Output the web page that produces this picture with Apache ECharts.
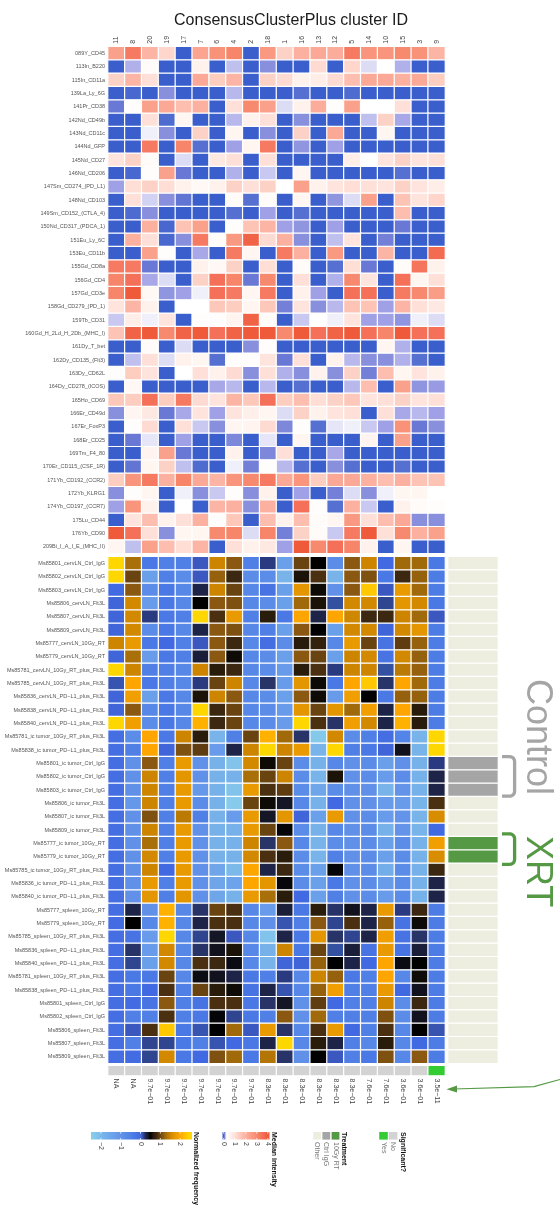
<!DOCTYPE html>
<html><head><meta charset="utf-8">
<script src="https://cdn.jsdelivr.net/npm/echarts@6/dist/echarts.min.js"></script>
<style>html,body{margin:0;padding:0;background:#fff}#c{width:560px;height:1225px}</style>
</head><body><div id="c"></div>
<script>
// ---------------- DATA ----------------
const clusterIds = ['11','8','20','19','17','7','6','4','2','18','1','16','13','12','5','14','10','15','3','9'];

const markers = ['089Y_CD45','113In_B220','115In_CD11a','139La_Ly_6G','141Pr_CD38','142Nd_CD49b','143Nd_CD11c','144Nd_GFP','145Nd_CD27','146Nd_CD206','147Sm_CD274_(PD_L1)','148Nd_CD103','149Sm_CD152_(CTLA_4)','150Nd_CD317_(PDCA_1)','151Eu_Ly_6C','153Eu_CD11b','155Gd_CD8a','156Gd_CD4','157Gd_CD3e','158Gd_CD279_(PD_1)','159Tb_CD31','160Gd_H_2Ld_H_2Db_(MHC_I)','161Dy_T_bet','162Dy_CD135_(Flt3)','163Dy_CD62L','164Dy_CD278_(ICOS)','165Ho_CD69','166Er_CD49d','167Er_FoxP3','168Er_CD25','169Tm_F4_80','170Er_CD115_(CSF_1R)','171Yb_CD192_(CCR2)','172Yb_KLRG1','174Yb_CD197_(CCR7)','175Lu_CD44','176Yb_CD90','209Bi_I_A_I_E_(MHC_II)'];

const samples = ['Ms85801_cervLN_Ctrl_IgG','Ms85802_cervLN_Ctrl_IgG','Ms85803_cervLN_Ctrl_IgG','Ms85806_cervLN_Flt3L','Ms85807_cervLN_Flt3L','Ms85809_cervLN_Flt3L','Ms85777_cervLN_10Gy_RT','Ms85779_cervLN_10Gy_RT','Ms85781_cervLN_10Gy_RT_plus_Flt3L','Ms85785_cervLN_10Gy_RT_plus_Flt3L','Ms85836_cervLN_PD−L1_plus_Flt3L','Ms85838_cervLN_PD−L1_plus_Flt3L','Ms85840_cervLN_PD−L1_plus_Flt3L','Ms85781_ic tumor_10Gy_RT_plus_Flt3L','Ms85838_ic tumor_PD−L1_plus_Flt3L','Ms85801_ic tumor_Ctrl_IgG','Ms85802_ic tumor_Ctrl_IgG','Ms85803_ic tumor_Ctrl_IgG','Ms85806_ic tumor_Flt3L','Ms85807_ic tumor_Flt3L','Ms85809_ic tumor_Flt3L','Ms85777_ic tumor_10Gy_RT','Ms85779_ic tumor_10Gy_RT','Ms85785_ic tumor_10Gy_RT_plus_Flt3L','Ms85836_ic tumor_PD−L1_plus_Flt3L','Ms85840_ic tumor_PD−L1_plus_Flt3L','Ms85777_spleen_10Gy_RT','Ms85779_spleen_10Gy_RT','Ms85785_spleen_10Gy_RT_plus_Flt3L','Ms85836_spleen_PD−L1_plus_Flt3L','Ms85840_spleen_PD−L1_plus_Flt3L','Ms85781_spleen_10Gy_RT_plus_Flt3L','Ms85838_spleen_PD−L1_plus_Flt3L','Ms85801_spleen_Ctrl_IgG','Ms85802_spleen_Ctrl_IgG','Ms85806_spleen_Flt3L','Ms85807_spleen_Flt3L','Ms85809_spleen_Flt3L'];

// median intensity (rows = markers, cols = clusters)
const markerValues = [
[2.4,3.3,1.9,1.2,0,2.3,2.8,3.1,0,2.6,1.3,2.0,2.2,2.1,3.3,2.7,2.7,3.0,2.8,1.9],
[0,0.15,0.4,0,0,0.6,0,0.17,0,0.1,0,0,1.1,0,1.2,0.2,0.3,0.15,0,0],
[1.3,1.9,1.0,0,0,2.2,1.4,1.9,0,1.3,1.1,0.6,0.7,1.1,1.7,2.2,2.2,2.0,2.2,1.4],
[0,0.02,0,0.1,0,0,0,0.16,0,0,0,0.04,0,0,0.03,0,0,0,0,0],
[0.07,0.35,2.4,2.2,1.7,2.0,0,1.0,3.0,2.4,0.2,0.6,2.1,0.35,2.4,0.3,0.3,1.0,0,0],
[0,0,1.0,0.03,0.5,0,0,0.16,0.6,1.0,0,0.1,0,0,0,0.17,1.3,0.14,0,0],
[0,0,0.22,0.1,0,1.3,0,0.5,0,0.1,0,1.3,0,2.2,0,0,0.5,0,0,0],
[0,0,3.3,0,3.1,0.04,0,0.13,0.5,3.3,0,0.11,0,0.13,0,0,0,0,0,0],
[0.9,1.3,0.4,0,0.2,0,0.8,1.0,0,1.0,0,0,0,0,0.7,0.3,0.9,1.3,0.9,1.0],
[0,0.02,0.35,2.4,0.07,0,0,0.15,0,0.18,0,0.5,0,0,0,0,0,0.04,0,0],
[0.13,1.05,1.3,1.05,0.6,0.45,0.6,1.3,1.0,1.3,0.3,2.4,0.6,0.9,1.05,1.0,0.9,1.3,0.9,0.7],
[0,1.0,0.19,0.1,0.06,0,0,0.4,0.04,0.4,0,0.5,0,0.11,0.2,2.4,0,1.6,0.9,1.2],
[0,0.03,0.1,0,0,0,0,0.04,0,0.13,0,0.04,0,0,0,0,0,1.7,0,0],
[0,0,2.0,0.02,1.6,2.4,0,0.35,1.6,1.9,0.13,0.11,0,0.13,0,0,0,0.07,0,0],
[0,2.0,1.0,0.02,0.1,3.3,0.4,2.6,3.8,1.1,2.0,0.1,0,0.17,0.9,0,0.08,0,0,0],
[0,0,2.4,0.35,0,0.14,0,3.3,0.5,0,3.3,2.0,0,2.6,0,0,1.9,0,0,3.6],
[3.3,3.3,0.07,0,0,0.6,0.45,1.3,0,1.05,0,0.4,0,0.04,1.05,0.07,0,0.4,3.4,0.6],
[3.1,3.5,0.14,0.2,0,1.3,3.5,3.1,0.07,3.0,0,1.0,0,0.15,3.0,0.9,0,3.5,0.5,1.0],
[3.1,4.0,0.45,0.11,0.13,0.22,3.5,3.3,0.5,3.3,0,0.6,0.13,0,3.5,3.5,0,3.3,3.0,2.5],
[0.9,1.9,0.6,0,0.3,0.3,1.5,1.4,0.5,1.5,0.08,0.9,0.1,0.16,1.6,1.6,0.13,1.9,1.0,0.8],
[0.18,0.7,0.22,0.9,0,0.35,0.35,0.55,3.8,0.4,0,0.18,0.3,0.22,0.9,0.13,0.13,0.11,0.22,0.2],
[1.6,3.8,4.0,3.0,3.8,4.0,3.5,3.8,4.0,4.0,3.0,4.0,3.5,3.8,4.0,3.5,3.1,4.0,3.5,3.5],
[0,0,0.4,0,0.2,0,0,0,0.1,0.35,0,0,0,0,0,0,0.5,0.15,0,0],
[0,0.17,1.0,0.2,0.6,0.5,0.04,0.35,0.35,0.9,0.07,1.0,0,0.6,0.16,0.1,0.1,0.15,0.04,0],
[0.35,1.4,0.9,0,0.3,1.0,0.6,1.1,0.1,1.0,0.15,0.1,0.6,0.1,1.3,0.08,1.7,0.5,0.9,0.6],
[0,0.45,0,0,0,0,0.14,0.16,0,0.16,0,0.04,0,0,0.16,1.7,0,2.4,0.11,0.12],
[1.5,1.4,3.5,1.4,3.3,1.1,0.9,1.9,1.5,3.5,1.4,1.7,1.05,1.3,1.5,0.9,1.0,1.3,0.9,1.0],
[0.1,0.5,0.8,0.07,0.14,0.9,0.13,0.9,0.65,0.5,0.2,1.3,0.6,0.9,1.0,0,1.0,0.14,0.16,0.13],
[0,0.35,1.1,0,1.0,0.18,0.1,0.5,0.55,1.1,0.09,0.35,0.04,0.21,0.22,0.18,0.13,2.8,0.07,0.1],
[0,0.07,0.21,0,0.13,0,0,0.09,0,0.21,0,0.5,0,0,0,0.55,0,2.4,0,0],
[0,0,0.55,2.4,0.07,0,0,0.6,0,0.09,1.0,0,0,0.14,0,0,0,0,0,0],
[0,0.06,0.5,1.3,0.17,0.03,0,0.22,0.08,0.35,0.16,0.04,0,0.1,0.04,0,0,0.04,0,0],
[1.4,2.7,3.3,2.0,3.1,2.2,1.9,2.7,3.0,3.3,2.2,2.7,1.4,2.2,2.2,2.0,1.7,2.0,1.6,1.6],
[0.1,0.35,0.5,0,0.22,0.1,0.18,0.35,0.1,0.6,0,0.13,0,0.08,0.2,0.1,0.22,0.5,0.5,0.3],
[0.13,2.7,0.6,0,0.3,0,1.9,2.0,0.1,2.0,0,3.5,0.35,0.04,2.0,0.18,0,0.6,0.4,0.35],
[0,0.9,1.7,0.6,1.0,2.0,0.35,1.5,0,1.7,0.6,1.7,0.4,0.5,2.6,1.0,1.7,2.2,0.1,0.1],
[4.0,3.5,1.0,0.1,0.5,0.5,3.0,3.1,0.2,3.1,0.08,1.3,0.4,0.18,3.3,4.0,1.0,3.0,2.0,2.4],
[0.5,0.17,2.4,1.7,1.05,1.9,0,1.0,0.6,0.8,0.13,4.0,3.0,3.5,3.1,0.6,0,0.5,0,0]
];

// normalized frequency (rows = samples, cols = clusters)
const freqValues = [
[2.5,1.3,-0.3,-0.5,-0.5,0.08,1.5,1.15,-0.5,0.18,-1.3,1.0,0.5,-0.8,1.15,1.5,0,1.25,1.25,-0.3],
[2.5,1.0,-1.3,-0.5,-0.8,0.08,1.2,0.8,-0.8,-0.8,-1.9,0.6,0.85,-1.9,1.15,1.1,-0.3,0.8,1.2,-0.4],
[0,1.15,-0.8,-0.3,-0.7,0.27,1.5,1.0,-0.7,-0.2,-1.3,1.7,0.55,-0.9,1.15,2.3,0.08,1.75,1.25,-0.4],
[0.02,1.55,-1.2,-0.3,-0.7,0.5,1.15,1.1,-0.7,-0.8,-1.3,1.25,0.6,0.12,1.55,1.55,0.15,1.7,1.55,-0.3],
[0.02,1.55,0.18,-0.3,-0.5,2.5,0.85,1.75,-0.5,0.65,-0.3,2.0,0.27,2.0,1.52,0.8,0.8,1.5,1.25,0.08],
[0.02,1.55,-0.8,-0.3,-0.7,0.27,1.15,1.1,-0.7,-0.5,-1.3,1.15,0.5,-1.3,1.55,1.55,0.02,1.55,1.7,-0.4],
[1.5,1.75,-0.3,0,-0.5,0.08,1.15,0.8,-0.7,-0.1,-0.8,0.65,0.7,-0.7,1.75,1.0,-0.2,0.95,1.2,-0.4],
[0.02,1.3,-1.2,-0.3,-0.5,0.35,1.15,0.55,-0.7,-0.8,-1.3,1.15,1.0,-1.3,1.5,1.55,-0.2,1.55,1.2,-0.4],
[2.5,1.5,-0.5,-0.5,-0.7,1.5,0.65,0.8,-0.7,-0.8,-1.2,0.65,0.85,0.18,1.5,1.5,0.12,1.4,1.2,-0.4],
[0.1,2.0,-0.3,-0.5,-0.7,0.18,1.0,1.5,-0.7,0.22,-1.2,1.7,0.55,-0.3,2.0,2.3,0.22,2.0,1.25,-0.4],
[0.02,1.85,-1.3,-0.3,-0.7,0.6,1.5,1.15,-0.7,-0.8,-1.3,1.15,0.55,-1.2,1.85,0.5,-0.3,1.2,1.2,-0.4],
[0.02,1.15,-0.7,-0.3,-0.7,2.5,0.8,1.0,-0.7,-0.8,-1.2,1.7,1.0,1.7,1.25,1.85,0.27,2.0,0.65,-0.4],
[2.5,1.85,-0.8,-0.3,-0.7,2.1,0.8,1.0,-0.7,-0.8,-1.2,2.5,0.85,0.22,1.85,1.55,0.27,2.1,0.65,-0.4],
[-0.1,-0.8,2.0,-0.3,1.5,0.65,-1.9,-0.5,1.0,2.1,1.25,0.22,-2.3,1.55,-0.8,-0.5,-0.1,-0.6,-1.9,2.5],
[-0.1,-0.5,2.0,0.02,1.1,0.95,-1.2,0.27,1.5,2.5,1.5,1.75,-1.9,2.5,-0.5,-0.3,0.02,0.42,-1.9,2.5],
[-0.1,-0.9,1.15,-0.5,1.75,-0.9,-1.8,-2.2,1.55,0.55,1.0,-0.8,-1.8,-0.7,-0.9,-0.8,-1.3,-0.9,-1.8,0.18],
[-0.1,-0.9,1.5,-0.5,1.7,-0.9,-1.8,-1.8,1.3,1.0,1.5,-0.8,-1.9,0.6,-0.9,-0.8,-1.2,-0.8,-1.8,0.27],
[-0.1,-0.9,1.5,-0.5,1.75,-1.1,-1.8,-2.2,1.75,0.85,0.95,-0.8,-1.5,-0.8,-0.9,-0.9,-1.9,-1.0,-1.8,0.27],
[-0.1,-1.1,1.5,-0.5,1.75,-0.8,-1.8,-2.4,1.0,0.55,0.4,-0.7,-1.8,0,-0.9,-0.9,-1.2,-1.2,-1.9,0.85],
[-0.1,-0.9,1.1,-0.5,1.4,-0.5,-1.8,-1.2,1.75,0.4,1.7,0.02,-1.3,1.75,-0.9,-0.8,-1.2,-1.0,-1.9,1.6],
[-0.1,-0.9,1.5,-0.5,1.75,-0.9,-1.8,-1.8,1.75,1.0,0.48,-0.8,-1.8,-0.7,-0.9,-0.8,-1.8,-1.0,-1.9,0],
[-0.1,-0.9,1.3,-0.5,1.75,-0.9,-1.8,-1.8,1.5,0.22,1.15,-0.7,-1.9,-0.8,-0.9,-0.8,-1.3,-0.8,-1.8,1.85],
[-0.1,-0.9,1.55,-0.5,1.75,-0.9,-1.8,-1.8,1.55,0.85,0.65,-0.8,-1.9,-0.5,-0.9,-0.8,-1.3,-0.8,-1.8,1.6],
[-0.1,-0.9,1.5,0,1.75,-0.9,-1.5,-2.0,2.0,0.27,0.8,-0.8,-1.3,0.48,-0.9,-0.8,-1.7,-0.8,-1.8,0.8],
[-0.1,-0.9,1.75,-0.5,1.75,-0.9,-1.5,-1.4,2.0,1.7,0.47,-0.8,-1.3,-0.3,-0.9,-0.8,-1.2,-0.8,-1.8,0.27],
[-0.1,-0.9,1.7,-0.5,1.7,-0.9,-1.5,-1.8,1.75,1.3,0.65,0,-1.3,-0.5,-0.9,-0.8,-1.2,-0.8,-1.8,0.27],
[-0.1,0.27,-0.9,2.1,-0.7,0.22,1.0,0.85,-0.7,-1.2,0.35,-0.3,0.65,0.22,0.42,0.27,1.75,0.18,0.8,-0.4],
[-0.05,0.5,-0.7,2.1,-0.7,0.27,0.85,0.85,-0.7,-0.9,0.1,-0.5,1.15,0.15,0.85,0.27,1.2,-0.2,0.55,-0.4],
[-0.1,-0.2,-1.2,2.5,-0.7,0.15,0.4,0.08,-0.7,-2.2,0.27,-0.3,1.7,0.22,0.15,0.27,1.85,-0.2,0.22,-0.4],
[-0.1,0.22,-1.2,1.55,-0.7,0.22,0.42,0.6,-0.7,-1.8,1.5,-0.3,1.0,0.12,0.35,-0.2,1.75,-0.2,0.35,-0.4],
[-0.1,0.15,-1.3,1.55,-0.7,0.85,0.8,0.45,-0.7,-1.9,0.02,0.02,1.2,0.5,0.27,0,2.0,0.45,0.5,-0.4],
[-0.1,-0.3,-0.3,1.0,-0.7,0.45,0.42,0.27,-0.3,-0.5,0.18,-0.7,1.5,1.2,-0.3,-0.5,2.0,-0.7,0.55,-0.4],
[-0.1,-0.3,0,0.85,-0.5,1.0,0.65,0.55,-0.2,0.27,0.1,-0.7,1.2,1.85,-0.5,-0.5,1.75,0,0.42,-0.4],
[-0.1,-0.05,-0.2,1.15,-0.5,-0.2,0.85,0.85,-0.3,0.22,0.4,-0.9,0.95,0,-0.5,-0.5,1.5,-0.8,0.8,-0.4],
[-0.1,-0.5,-0.5,0.85,-0.5,-0.3,0.48,0.15,-0.3,-0.5,1.15,-0.9,1.25,-0.5,-0.5,-0.5,1.1,-0.8,0.42,-0.4],
[-0.1,0.08,0.85,2.3,-0.3,0.1,0.5,1.25,0.08,1.75,0.22,-0.7,0.85,1.75,0,-0.5,0.85,-0.7,0.5,0.1],
[-0.1,-0.5,0.15,0.15,-0.3,-0.5,0.1,0,-0.3,0.27,2.5,-0.7,0.65,0.27,-0.5,-0.7,0.65,-0.7,0,-0.4],
[-0.1,-0.05,0.15,1.55,-0.3,0,1.1,1.25,-0.3,1.35,0.22,-0.9,0.5,0.08,-0.5,-0.3,1.1,-0.7,1.15,-0.4]
];

const pValueLabels = ['NA','NA','9.7e−01','9.7e−01','9.7e−01','9.7e−01','9.7e−01','9.7e−01','9.7e−01','8.3e−01','8.3e−01','8.3e−01','8.3e−01','8.3e−01','8.3e−01','7.6e−01','7.6e−01','3.6e−01','3.6e−01','3.5e−11'];
const significant = ['No','No','No','No','No','No','No','No','No','No','No','No','No','No','No','No','No','No','No','Yes'];
const sampleTreatment = ['Other','Other','Other','Other','Other','Other','Other','Other','Other','Other','Other','Other','Other','Other','Other','Ctrl IgG','Ctrl IgG','Ctrl IgG','Other','Other','Other','10Gy RT','10Gy RT','Other','Other','Other','Other','Other','Other','Other','Other','Other','Other','Other','Other','Other','Other','Other'];

const freqLegendTicks = [-2,-1,0,1,2];
const medianLegendTicks = [0,1,2,3,4];
const treatmentLegend = ['Other','Ctrl IgG','10Gy RT'];
const significantLegend = ['Yes','No'];

// ---------------- STYLE ----------------
const FONT = '"Liberation Sans", Arial, Helvetica, sans-serif';
const topAnchors = [[0,'#3A5FCD'],[0.04,'#5570D0'],[0.07,'#6A78D5'],[0.1,'#8890DD'],[0.13,'#A0A0E6'],[0.16,'#B8B8EC'],[0.18,'#C8C8F0'],[0.2,'#DCDCF5'],[0.22,'#F0F0FA'],[0.25,'#FFFFFF'],[0.3,'#FFFFFF'],[0.5,'#FFF6F2'],[1.0,'#FEE0D8'],[1.5,'#FDC8BA'],[2.0,'#FCB0A0'],[2.5,'#FA9D86'],[3.0,'#F78A6E'],[3.5,'#F47058'],[4.0,'#EE5A3A']];
const freqAnchors = [[-2.5,'#87CEEB'],[-2.3,'#84C8EA'],[-1.9,'#78B4EA'],[-1.3,'#6A9FEA'],[-0.9,'#6090E8'],[-0.8,'#5A8CE8'],[-0.5,'#5080E6'],[-0.3,'#4A78E4'],[0,'#4169E1'],[0.08,'#3A58C0'],[0.12,'#3450A0'],[0.18,'#2A3A80'],[0.22,'#283468'],[0.27,'#1E2448'],[0.35,'#1A1E38'],[0.42,'#12121E'],[0.5,'#000000'],[0.55,'#0E0A06'],[0.65,'#2A1C0A'],[0.8,'#3C2810'],[0.85,'#4A3010'],[1.0,'#6A4410'],[1.15,'#8A5810'],[1.25,'#A06A0A'],[1.5,'#CD8500'],[1.75,'#E89A00'],[2.0,'#FFA500'],[2.3,'#FFC800'],[2.5,'#FFD700']];
const treatColors = {'Other':'#EEEEE0','Ctrl IgG':'#A5A5A5','10Gy RT':'#559944'};
const sigColors = {'No':'#D3D3D3','Yes':'#33CC33'};

function hexToRgb(h){h=h.replace('#','');return [parseInt(h.slice(0,2),16),parseInt(h.slice(2,4),16),parseInt(h.slice(4,6),16)];}
function rgbToHex(c){return '#'+c.map(v=>Math.round(Math.max(0,Math.min(255,v))).toString(16).padStart(2,'0')).join('');}
function ramp(anchors,v){
  if(v<=anchors[0][0]) return anchors[0][1];
  for(let i=1;i<anchors.length;i++){
    if(v<=anchors[i][0]){
      const v0=anchors[i-1][0],v1=anchors[i][0];const t=v1===v0?1:(v-v0)/(v1-v0);
      const a=hexToRgb(anchors[i-1][1]),b=hexToRgb(anchors[i][1]);
      return rgbToHex(a.map((x,k)=>x+(b[k]-x)*t));
    }
  }
  return anchors[anchors.length-1][1];
}
function samplePalette(anchors,min,max,n){const out=[];for(let i=0;i<n;i++)out.push(ramp(anchors,min+(max-min)*i/(n-1)));return out;}
function gradient(anchors,lmin,lmax){const stops=[];const N=80;for(let i=0;i<=N;i++){stops.push({offset:i/N,color:ramp(anchors,lmin+(lmax-lmin)*i/N)});}return new echarts.graphic.LinearGradient(0,0,1,0,stops);}

// ---------------- BUILD ----------------
const topData=[];markerValues.forEach((row,r)=>row.forEach((v,c)=>topData.push([c,r,v])));
const freqData=[];freqValues.forEach((row,r)=>row.forEach((v,c)=>freqData.push([c,r,v])));
const sigData=significant.map((s,i)=>[i,0,significantLegend.indexOf(s)===0?1:0]);
const treatData=sampleTreatment.map((t,r)=>[0,r,treatmentLegend.indexOf(t)]);

const HX=108, HW=337, TOP1=46.7, H1=506.7, TOP2=556.7, H2=506.7;
const axisBase={axisLine:{show:false},axisTick:{show:false},splitLine:{show:false},splitArea:{show:false}};
const cellStyle={borderColor:'#ffffff',borderWidth:1.2};

const graphics=[];
function vtext(x,y,text,opt){graphics.push(Object.assign({type:'text',x:x,y:y,rotation:-Math.PI/2,silent:true,style:Object.assign({text:text,fontFamily:FONT,fontSize:7,fill:'#555',align:'left',verticalAlign:'middle'},opt||{})}));}

// title
graphics.push({type:'text',x:291,y:21,silent:true,style:{text:'ConsensusClusterPlus cluster ID',fontFamily:FONT,fontSize:16,fill:'#1a1a1a',align:'center',verticalAlign:'middle'}});

// legends
const LY=1132, LH=7.6, LBL=1142;
// normalized frequency
(function(){
  const x0=91,w=101,lmin=-2.5,lmax=2.6;
  graphics.push({type:'rect',silent:true,shape:{x:x0,y:LY,width:w,height:LH},style:{fill:gradient(freqAnchors,lmin,lmax)}});
  freqLegendTicks.forEach(t=>{const x=x0+(t-lmin)/(lmax-lmin)*w;
    graphics.push({type:'line',silent:true,shape:{x1:x,y1:LY,x2:x,y2:LY+1.6},style:{stroke:'#fff',lineWidth:0.8}});
    graphics.push({type:'line',silent:true,shape:{x1:x,y1:LY+LH-1.6,x2:x,y2:LY+LH},style:{stroke:'#fff',lineWidth:0.8}});
    vtext(x,LBL,(t<0?'−':'')+Math.abs(t),{fill:'#444'});});
  vtext(196,LY,'Normalized frequency',{fontWeight:'bold',fill:'#111'});
})();
// median intensity
(function(){
  const x0=222.5,w=47,lmin=-0.1,lmax=4.15;
  graphics.push({type:'rect',silent:true,shape:{x:x0,y:LY,width:w,height:LH},style:{fill:gradient(topAnchors,lmin,lmax)}});
  medianLegendTicks.forEach(t=>{const x=x0+(t-lmin)/(lmax-lmin)*w;
    graphics.push({type:'line',silent:true,shape:{x1:x,y1:LY,x2:x,y2:LY+1.6},style:{stroke:'#fff',lineWidth:0.8}});
    graphics.push({type:'line',silent:true,shape:{x1:x,y1:LY+LH-1.6,x2:x,y2:LY+LH},style:{stroke:'#fff',lineWidth:0.8}});
    vtext(x,LBL,String(t),{fill:'#444'});});
  vtext(274,LY,'Median intensity',{fontWeight:'bold',fill:'#111'});
})();
// treatment
(function(){
  const x0=313.2,s=7.8,g=9.2;
  treatmentLegend.forEach((t,i)=>{const x=x0+i*g;
    graphics.push({type:'rect',silent:true,shape:{x:x,y:LY,width:s,height:LH},style:{fill:treatColors[t]}});
    vtext(x+s/2,LBL,t,{fill:'#777'});});
  vtext(344,LY,'Treatment',{fontWeight:'bold',fill:'#111'});
})();
// significant
(function(){
  const x0=379.2,s=8.6,g=9.6;
  significantLegend.forEach((t,i)=>{const x=x0+i*g;
    graphics.push({type:'rect',silent:true,shape:{x:x,y:LY,width:s,height:LH},style:{fill:sigColors[t]}});
    vtext(x+s/2,LBL,t,{fill:'#777'});});
  vtext(403,LY,'Significant?',{fontWeight:'bold',fill:'#111'});
})();

// brackets & side labels
function bracket(x0,xr,y0,y1,color){
  const r=5,pts=[[x0,y0]];
  for(let k=0;k<=6;k++){const a=-Math.PI/2+k*(Math.PI/2)/6;pts.push([xr-r+r*Math.cos(a),y0+r+r*Math.sin(a)]);}
  for(let k=0;k<=6;k++){const a=0+k*(Math.PI/2)/6;pts.push([xr-r+r*Math.cos(a),y1-r+r*Math.sin(a)]);}
  pts.push([x0,y1]);
  graphics.push({type:'polyline',silent:true,shape:{points:pts},style:{stroke:color,lineWidth:3.3,fill:null,lineJoin:'round'}});
}
bracket(502,514.6,756.6,796.2,'#A5A5A5');
bracket(502,514.6,833.8,864.4,'#559944');
vtext(536.5,679,'Control',{fontSize:36,fill:'#A5A5A5'});
vtext(536.5,836,'XRT',{fontSize:36,fill:'#559944'});
// arrow to significant cluster
graphics.push({type:'polyline',silent:true,shape:{points:[[454,1089],[534,1086.6],[560,1079.5]]},style:{stroke:'#559944',lineWidth:1.2,fill:null}});
graphics.push({type:'polygon',silent:true,shape:{points:[[446.5,1089.2],[457,1085.6],[457,1092.6]]},style:{fill:'#559944'}});

const option={
  animation:false,
  backgroundColor:'#ffffff',
  textStyle:{fontFamily:FONT},
  grid:[
    {left:HX,top:TOP1,width:HW,height:H1},
    {left:HX,top:TOP2,width:HW,height:H2},
    {left:HX,top:1065.6,width:HW,height:10},
    {left:448,top:TOP2,width:50,height:H2}
  ],
  xAxis:[
    Object.assign({gridIndex:0,type:'category',data:clusterIds,position:'top',axisLabel:{interval:0,rotate:-90,fontSize:7,color:'#444',margin:3,fontFamily:FONT}},axisBase),
    Object.assign({gridIndex:1,type:'category',data:clusterIds,axisLabel:{show:false}},axisBase),
    Object.assign({gridIndex:2,type:'category',data:clusterIds,position:'bottom',axisLabel:{interval:0,rotate:-90,fontSize:7,color:'#444',margin:3,fontFamily:FONT,formatter:(v,i)=>pValueLabels[i]}},axisBase),
    Object.assign({gridIndex:3,type:'category',data:['Treatment'],axisLabel:{show:false}},axisBase)
  ],
  yAxis:[
    Object.assign({gridIndex:0,type:'category',data:markers,inverse:true,axisLabel:{interval:0,fontSize:5.5,color:'#555',margin:3,fontFamily:FONT}},axisBase),
    Object.assign({gridIndex:1,type:'category',data:samples,inverse:true,axisLabel:{interval:0,fontSize:5.5,color:'#555',margin:3,fontFamily:FONT}},axisBase),
    Object.assign({gridIndex:2,type:'category',data:['Significant?'],axisLabel:{show:false}},axisBase),
    Object.assign({gridIndex:3,type:'category',data:samples,inverse:true,axisLabel:{show:false}},axisBase)
  ],
  visualMap:[
    {type:'continuous',show:false,seriesIndex:0,min:0,max:4,inRange:{color:samplePalette(topAnchors,0,4,401)}},
    {type:'continuous',show:false,seriesIndex:1,min:-2.5,max:2.5,inRange:{color:samplePalette(freqAnchors,-2.5,2.5,501)}},
    {type:'piecewise',show:false,seriesIndex:2,pieces:[{value:0,color:sigColors['No']},{value:1,color:sigColors['Yes']}]},
    {type:'piecewise',show:false,seriesIndex:3,pieces:treatmentLegend.map((t,i)=>({value:i,color:treatColors[t]}))}
  ],
  series:[
    {type:'heatmap',xAxisIndex:0,yAxisIndex:0,data:topData,itemStyle:cellStyle,emphasis:{disabled:true}},
    {type:'heatmap',xAxisIndex:1,yAxisIndex:1,data:freqData,itemStyle:cellStyle,emphasis:{disabled:true}},
    {type:'heatmap',xAxisIndex:2,yAxisIndex:2,data:sigData,itemStyle:cellStyle,emphasis:{disabled:true}},
    {type:'heatmap',xAxisIndex:3,yAxisIndex:3,data:treatData,itemStyle:cellStyle,emphasis:{disabled:true}}
  ],
  graphic:{elements:graphics}
};
const chart=echarts.init(document.getElementById('c'),null,{renderer:'canvas',width:560,height:1225});
chart.setOption(option);
</script></body></html>
